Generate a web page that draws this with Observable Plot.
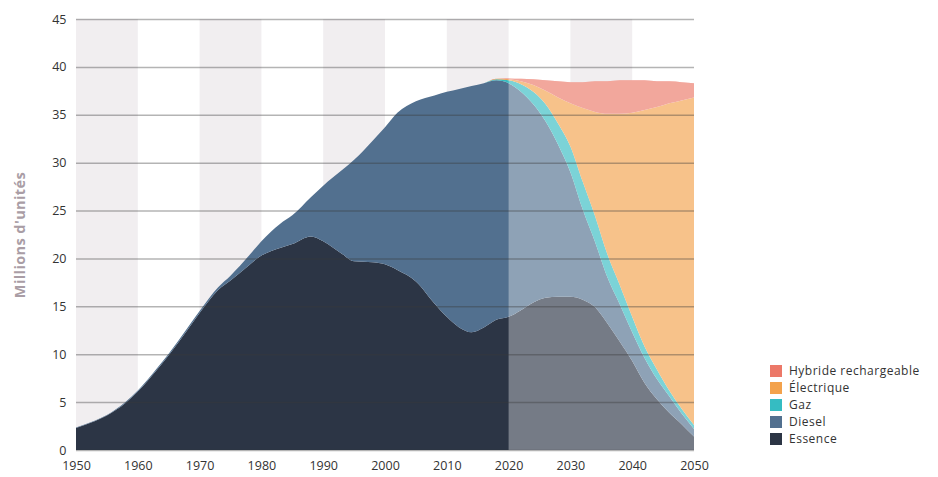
<!DOCTYPE html>
<html>
<head>
<meta charset="utf-8">
<script src="https://cdn.jsdelivr.net/npm/d3@7"></script>
<script src="https://cdn.jsdelivr.net/npm/@observablehq/plot@0.6"></script>
<style>
  body { margin: 0; background: #fff; }
  #wrap { position: relative; width: 938px; height: 477px; overflow: hidden; }
  #wrap svg [aria-label="y-axis label"] text { font-weight: 700; fill: #a99da5; font-size: 14.5px; letter-spacing: 0.4px; }
  #legend { position: absolute; left: 770px; top: 362px; font-family: "Open Sans", sans-serif; font-size: 12px; line-height: 17px; color: #333; }
  #legend .row { display: flex; align-items: center; height: 17px; white-space: nowrap; }
  #legend .sw { width: 12px; height: 12px; margin-right: 7px; flex: none; }
  #legend .lb { display: block; height: 17px; line-height: 17px; letter-spacing: 0.5px; }
</style>
</head>
<body>
<div id="wrap"></div>
<script>
// ---- Data (millions d'unités, per energy type, stacked) ----
const years = [1950,1953,1955,1958,1960,1963,1965,1968,1970,1973,1975,1978,1980,1983,1985,1988,1990,1993,1995,1998,2000,2002,2005,2008,2010,2012,2014,2016,2018,2020,2022,2024,2026,2028,2030,2032,2034,2036,2038,2040,2042,2044,2046,2048,2050];
const essence    = [2.3,3.0,3.6,4.9,6.1,8.3,9.9,12.5,14.3,16.7,17.7,19.3,20.3,21.1,21.5,22.3,21.8,20.5,19.7,19.6,19.4,18.8,17.6,15.3,13.9,12.8,12.3,12.8,13.6,13.9,14.6,15.4,15.9,16.0,16.0,15.7,14.9,13.2,11.3,9.3,7.0,5.3,3.9,2.7,1.4];
const diesel     = [0.05,0.05,0.05,0.1,0.1,0.15,0.15,0.2,0.2,0.3,0.5,1.0,1.5,2.5,3.0,4.1,5.8,8.7,10.6,12.7,14.3,16.4,18.8,21.7,23.5,24.9,25.7,25.5,25.0,24.4,22.8,20.7,18.4,15.9,13.0,9.4,6.8,4.8,3.9,3.0,2.6,2.1,1.7,1.1,0.8];
const gaz        = [0,0,0,0,0,0,0,0,0,0,0,0,0,0,0,0,0,0,0,0,0,0,0,0,0,0,0,0,0.1,0.3,0.8,1.3,1.8,2.2,2.7,2.9,2.7,2.4,2.0,1.6,1.2,1.0,0.6,0.5,0.4];
const electrique = [0,0,0,0,0,0,0,0,0,0,0,0,0,0,0,0,0,0,0,0,0,0,0,0,0,0,0,0,0.05,0.1,0.3,0.7,1.4,2.7,4.5,7.7,10.9,14.7,17.9,21.3,24.7,27.4,30.0,32.2,34.2];
const hybride    = [0,0,0,0,0,0,0,0,0,0,0,0,0,0,0,0,0,0,0,0,0,0,0,0,0,0,0,0,0,0.1,0.25,0.6,1.1,1.7,2.2,2.7,3.2,3.4,3.5,3.4,3.1,2.7,2.3,1.9,1.5];

const series = ["Essence", "Diesel", "Gaz", "Électrique", "Hybride rechargeable"];
const colors = ["#2c3545", "#52708f", "#35bcc2", "#f3a24c", "#ec7868"];
const legendOrder = ["Hybride rechargeable", "Électrique", "Gaz", "Diesel", "Essence"];
const xTicks = [1950,1960,1970,1980,1990,2000,2010,2020,2030,2040,2050];
const yTicks = [0,5,10,15,20,25,30,35,40,45];
const shadedDecades = [1950,1970,1990,2010,2030];
const forecastStart = 2020;

// ---- Build tables ----
const valuesBySeries = [essence, diesel, gaz, electrique, hybride];
const long = series.flatMap((s, i) => years.map((yr, j) => ({year: yr, value: valuesBySeries[i][j], series: s})));
const future = years.map((yr, j) => ({year: yr, total: valuesBySeries.reduce((a, arr) => a + arr[j], 0)}))
  .filter(d => d.year >= forecastStart);

const chart = Plot.plot({
  width: 938,
  height: 477,
  marginLeft: 76,
  marginRight: 244,
  marginTop: 19,
  marginBottom: 27,
  style: {fontFamily: "Open Sans, sans-serif", fontSize: "12.5px", color: "#333", background: "white"},
  x: {domain: [1950, 2050], ticks: xTicks, tickFormat: "d", tickSize: 0, tickPadding: 11, label: null},
  y: {domain: [0, 45], ticks: yTicks, tickSize: 0, tickPadding: 10, label: "Millions d'unités", labelAnchor: "center", labelArrow: "none", labelOffset: 62},
  color: {domain: series, range: colors},
  marks: [
    Plot.rect(shadedDecades, {x1: d => d, x2: d => d + 10, y1: 0, y2: 45, fill: "#f1eef0"}),
    Plot.areaY(long, {x: "year", y: "value", fill: "series", order: series, curve: "monotone-x"}),
    Plot.areaY(future, {x: "year", y: "total", fill: "white", fillOpacity: 0.35, curve: "monotone-x"}),
    Plot.ruleY(yTicks, {stroke: "#3a3a3a", strokeOpacity: 0.38, strokeWidth: 1.5})
  ]
});
document.getElementById("wrap").appendChild(chart);

// ---- Legend ----
const legend = document.createElement("div");
legend.id = "legend";
legendOrder.forEach(name => {
  const row = document.createElement("div");
  row.className = "row";
  const sw = document.createElement("span");
  sw.className = "sw";
  sw.style.background = colors[series.indexOf(name)];
  const label = document.createElement("span");
  label.className = "lb";
  label.textContent = name;
  row.appendChild(sw);
  row.appendChild(label);
  legend.appendChild(row);
});
document.getElementById("wrap").appendChild(legend);
</script>
</body>
</html>
